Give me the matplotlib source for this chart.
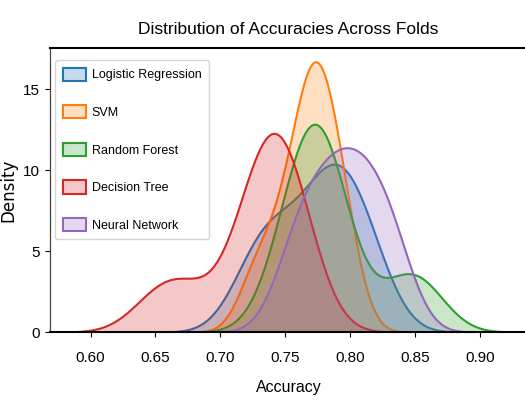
import matplotlib
matplotlib.use("Agg")
import matplotlib.pyplot as plt
from matplotlib.ticker import MultipleLocator
import seaborn as sns

# fold accuracies per model (10-fold CV)
models = ["Logistic Regression", "SVM", "Random Forest", "Decision Tree", "Neural Network"]
logreg_acc = [0.722, 0.735, 0.745, 0.762, 0.775, 0.783, 0.790, 0.797, 0.807, 0.818]
svm_acc = [0.726, 0.743, 0.756, 0.763, 0.768, 0.773, 0.777, 0.782, 0.789, 0.798]
rf_acc = [0.750, 0.760, 0.766, 0.771, 0.775, 0.779, 0.784, 0.790, 0.840, 0.855]
dt_acc = [0.652, 0.675, 0.720, 0.725, 0.733, 0.740, 0.745, 0.750, 0.755, 0.758]
nn_acc = [0.753, 0.764, 0.774, 0.784, 0.792, 0.800, 0.808, 0.817, 0.827, 0.837]

plt.rcParams['font.family'] = ['Liberation Sans', 'DejaVu Sans']

fig, ax = plt.subplots(figsize=(5.25, 4.05), dpi=100)
fig.subplots_adjust(left=0.095, right=1.004, bottom=0.18, top=0.881)

for name, acc in zip(models, [logreg_acc, svm_acc, rf_acc, dt_acc, nn_acc]):
    sns.kdeplot(x=acc, fill=True, label=name, ax=ax, linewidth=1.5)

ax.set_title("Distribution of Accuracies Across Folds", fontsize=12.5, pad=10)
ax.set_xlabel("Accuracy", fontsize=11.5, labelpad=11)
ax.set_ylabel("Density", fontsize=12, family="DejaVu Sans", labelpad=4)
ax.yaxis.set_major_locator(MultipleLocator(5))
ax.tick_params(labelsize=11)
ax.tick_params(axis="x", pad=10)

for side in ["top", "bottom"]:
    ax.spines[side].set_linewidth(1.5)
for side in ["left", "right"]:
    ax.spines[side].set_linewidth(0.9)
    ax.spines[side].set_color("#444444")

ax.legend(loc="upper left", bbox_to_anchor=(0.011, 0.958), borderaxespad=0,
          fontsize=9, labelspacing=1.9, handlelength=1.84, handleheight=1.25,
          handletextpad=0.5, borderpad=0.6)

fig.savefig("out.png", dpi=100)
